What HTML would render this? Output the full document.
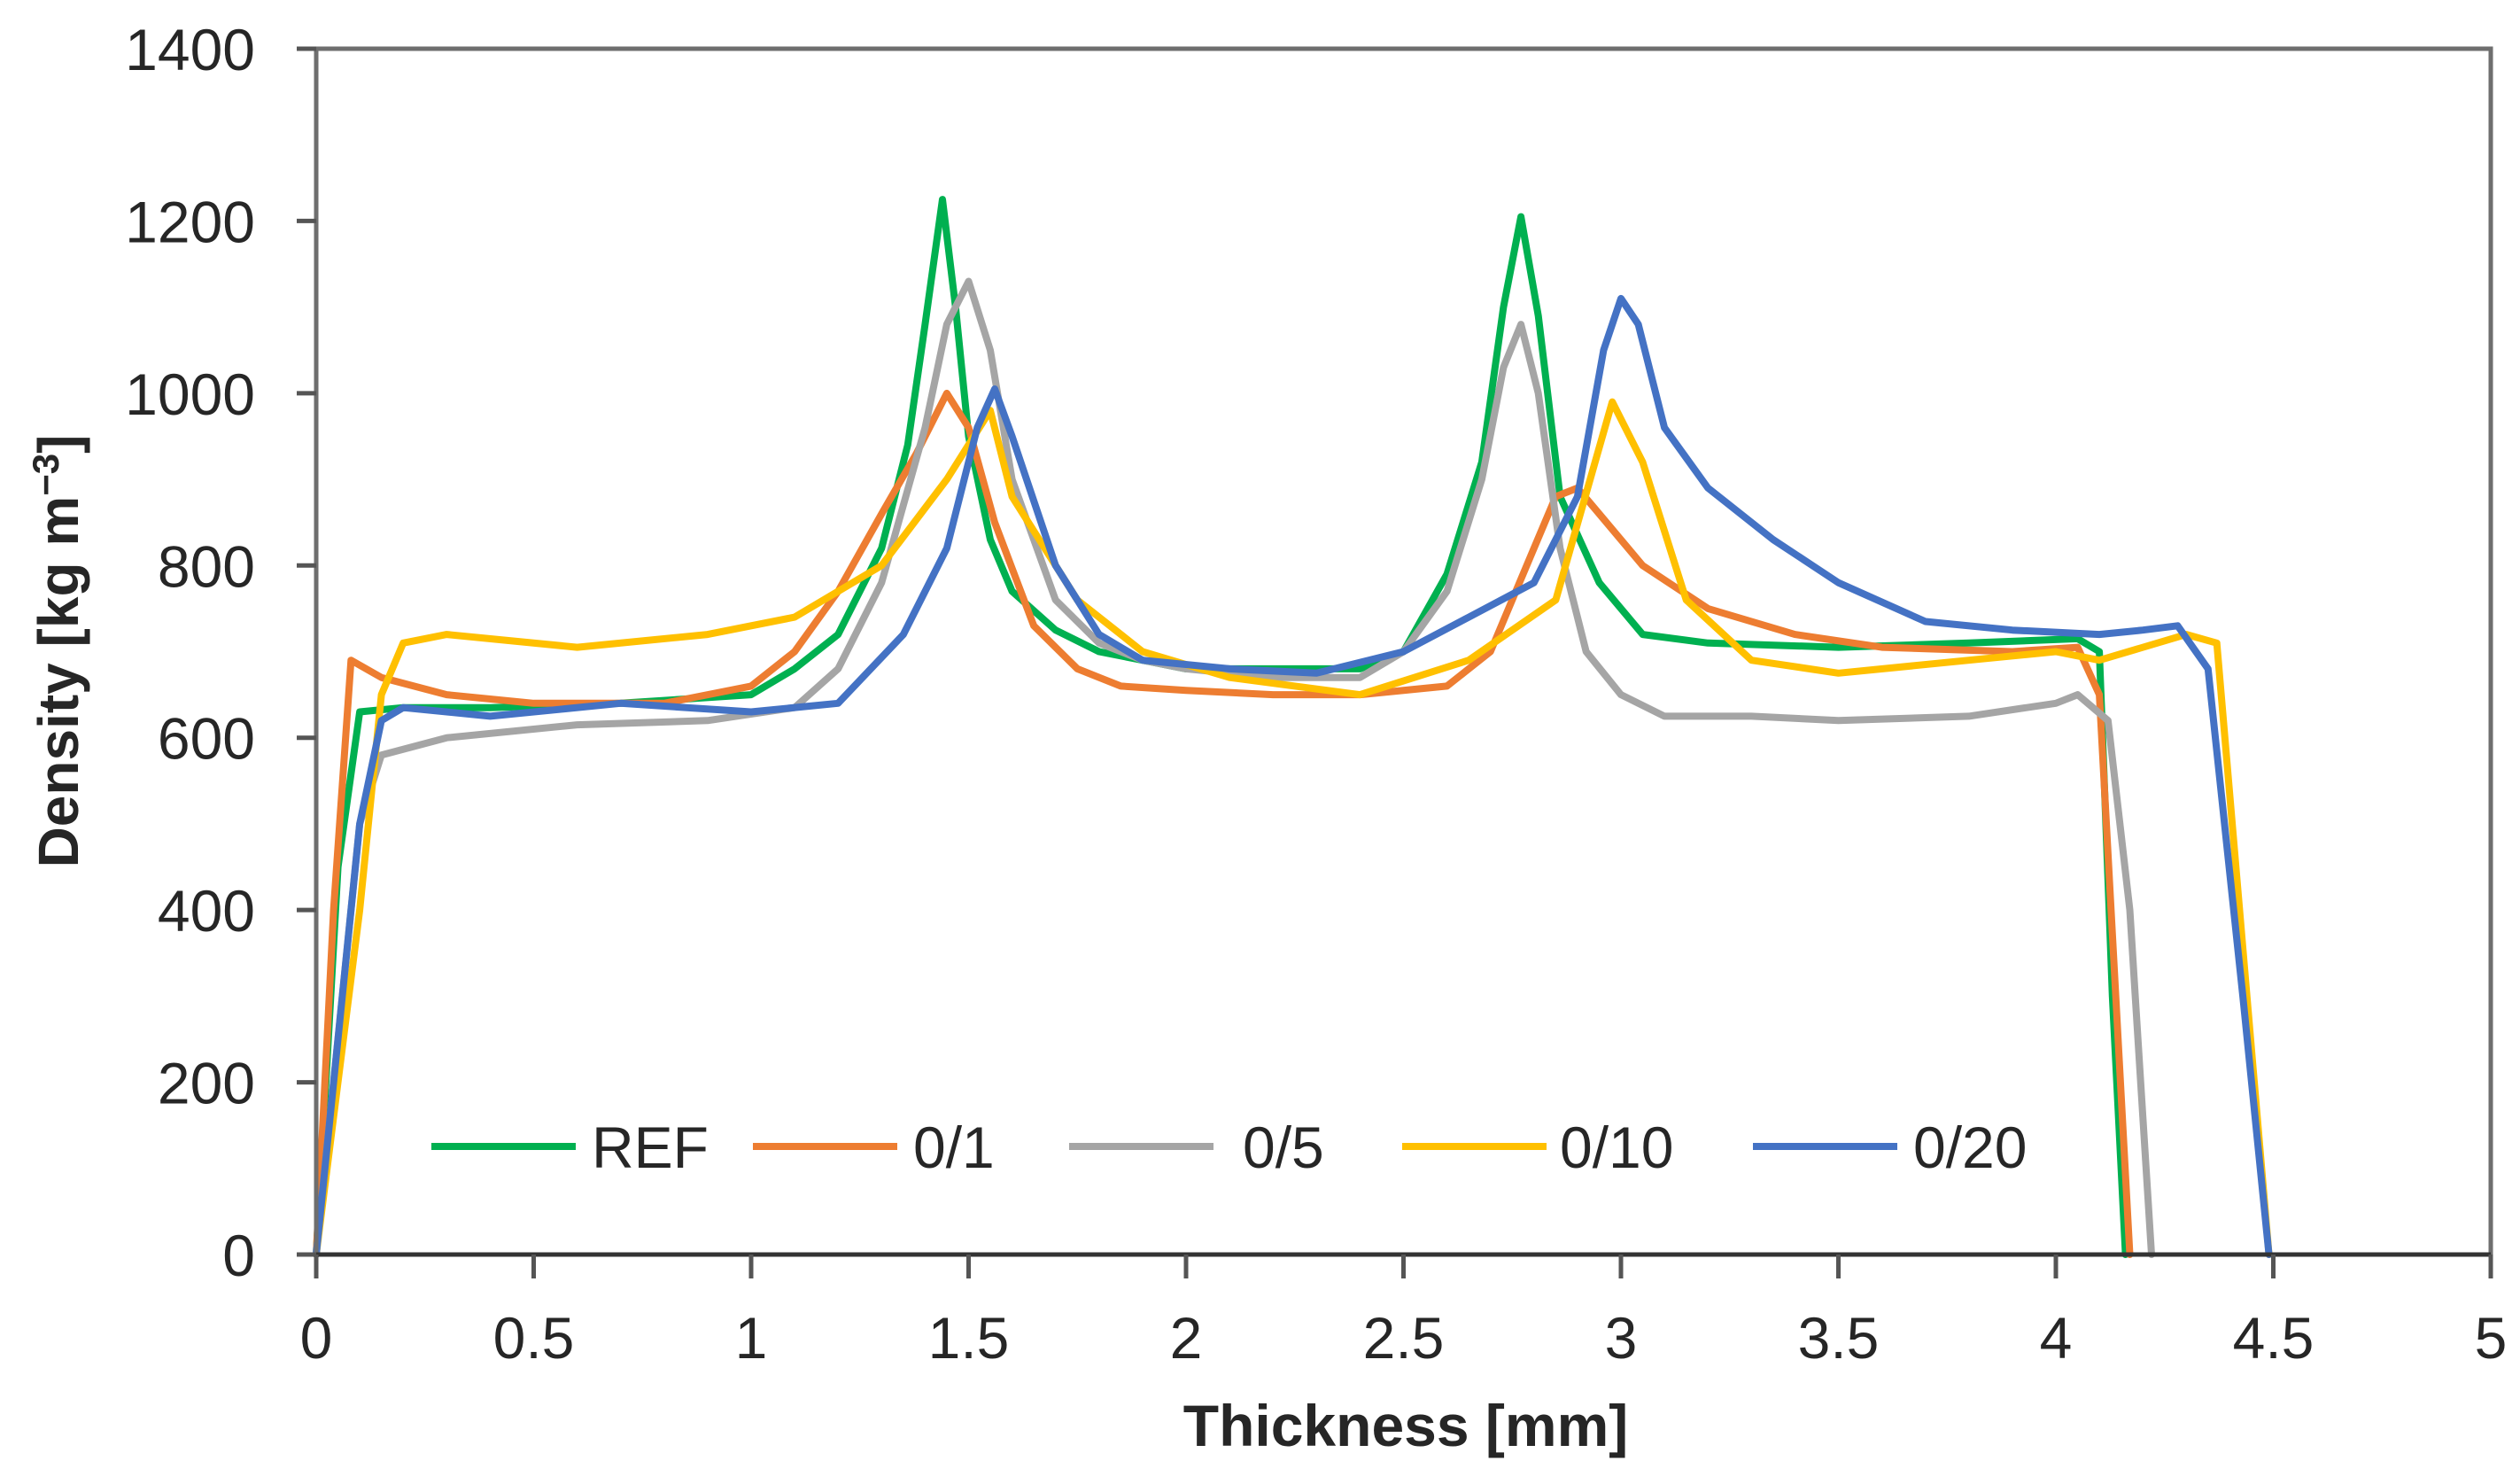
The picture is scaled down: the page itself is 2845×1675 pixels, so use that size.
<!DOCTYPE html>
<html><head><meta charset="utf-8"><style>
html,body{margin:0;padding:0;background:#fff;}
svg{display:block;}
text{font-family:"Liberation Sans",sans-serif;fill:#262626;}
</style></head><body>
<svg id="chart" width="2845" height="1675" xmlns="http://www.w3.org/2000/svg">
<g id="grid"></g>
<g id="series"></g>
<g id="axes"></g>
<g id="legend"></g>
</svg>
<script>
const xTicks=[0,0.5,1,1.5,2,2.5,3,3.5,4,4.5,5];
const xTickLabels=["0","0.5","1","1.5","2","2.5","3","3.5","4","4.5","5"];
const yTicks=[0,200,400,600,800,1000,1200,1400];
const yTickLabels=["0","200","400","600","800","1000","1200","1400"];
const seriesNames=["REF","0/1","0/5","0/10","0/20"];
const seriesColors=["#00b050","#ed7d31","#a5a5a5","#ffc000","#4472c4"];
const refX=[0,0.05,0.1,0.2,0.4,0.7,1.0,1.1,1.2,1.3,1.36,1.4,1.44,1.47,1.5,1.55,1.6,1.7,1.8,1.9,2.0,2.2,2.4,2.5,2.6,2.68,2.73,2.77,2.81,2.86,2.95,3.05,3.2,3.5,3.8,4.05,4.1,4.13,4.16];
const refY=[0,450,630,635,635,640,650,680,720,820,940,1080,1225,1100,950,830,770,725,700,690,680,680,680,700,790,920,1100,1205,1090,880,780,720,710,705,710,715,700,300,0];
const s01X=[0,0.04,0.08,0.15,0.3,0.5,0.8,1.0,1.1,1.2,1.3,1.38,1.45,1.5,1.56,1.65,1.75,1.85,2.0,2.2,2.4,2.6,2.7,2.8,2.85,2.9,2.95,3.05,3.2,3.4,3.6,3.9,4.05,4.1,4.17];
const s01Y=[0,400,690,670,650,640,640,660,700,770,860,930,1000,960,850,730,680,660,655,650,650,660,700,820,880,890,860,800,750,720,705,700,705,650,0];
const s05X=[0,0.1,0.15,0.3,0.6,0.9,1.1,1.2,1.3,1.4,1.45,1.5,1.55,1.6,1.7,1.8,1.9,2.0,2.2,2.4,2.5,2.6,2.68,2.73,2.77,2.81,2.86,2.92,3.0,3.1,3.3,3.5,3.8,4.0,4.05,4.12,4.17,4.22];
const s05Y=[0,500,580,600,615,620,635,680,780,960,1080,1130,1050,900,760,710,690,680,670,670,700,770,900,1030,1080,1000,820,700,650,625,625,620,625,640,650,620,400,0];
const s10X=[0,0.1,0.15,0.2,0.3,0.6,0.9,1.1,1.3,1.45,1.55,1.6,1.75,1.9,2.1,2.4,2.65,2.85,2.98,3.05,3.15,3.3,3.5,3.8,4.0,4.1,4.3,4.37,4.49];
const s10Y=[0,400,650,710,720,705,720,740,800,900,980,880,760,700,670,650,690,760,990,920,760,690,675,690,700,690,720,710,0];
const s20X=[0,0.1,0.15,0.2,0.4,0.7,1.0,1.2,1.35,1.45,1.52,1.56,1.6,1.7,1.8,1.9,2.1,2.3,2.5,2.65,2.8,2.9,2.96,3.0,3.04,3.1,3.2,3.35,3.5,3.7,3.9,4.1,4.2,4.28,4.35,4.43,4.49];
const s20Y=[0,500,620,635,625,640,630,640,720,820,960,1005,950,800,720,690,680,675,700,740,780,880,1050,1110,1080,960,890,830,780,735,725,720,725,730,680,300,0];
const allX=[refX,s01X,s05X,s10X,s20X];
const allY=[refY,s01Y,s05Y,s10Y,s20Y];

const L=357,R=2812,T=55,B=1416;
const sx=v=>L+(v-0)/5*(R-L);
const sy=v=>B-(v-0)/1400*(B-T);
const NS="http://www.w3.org/2000/svg";
function mk(tag,attrs,parent){const e=document.createElementNS(NS,tag);for(const k in attrs)e.setAttribute(k,attrs[k]);parent.appendChild(e);return e;}
const axes=document.getElementById('axes'),ser=document.getElementById('series'),leg=document.getElementById('legend');

allX.forEach((xs,i)=>{
  const pts=xs.map((x,j)=>sx(x).toFixed(1)+","+sy(allY[i][j]).toFixed(1)).join(" ");
  const p=mk('polyline',{points:pts,fill:'none',stroke:seriesColors[i],'stroke-width':8,'stroke-linejoin':'round','stroke-linecap':'round'},ser);
  
  
});

const frame=mk('rect',{x:L,y:T,width:R-L,height:B-T,fill:'none',stroke:'#6e6e6e','stroke-width':5},axes);


const xa=mk('line',{x1:L-10,y1:B,x2:R,y2:B,stroke:'#333','stroke-width':5},axes);



xTicks.forEach((t,i)=>{
  const tk=mk('line',{x1:sx(t),y1:B,x2:sx(t),y2:B+27,stroke:'#555','stroke-width':5},axes);
  
  
  const tx=mk('text',{x:sx(t),y:1533,'font-size':66,'text-anchor':'middle'},axes);
  tx.textContent=xTickLabels[i];
  
  
});
yTicks.forEach((t,i)=>{
  const tk=mk('line',{x1:L-22,y1:sy(t),x2:L,y2:sy(t),stroke:'#555','stroke-width':5},axes);
  
  
  const tx=mk('text',{x:288,y:sy(t)+24,'font-size':66,'text-anchor':'end'},axes);
  tx.textContent=yTickLabels[i];
  
  
});
const xt=mk('text',{x:1587,y:1632,'font-size':66,'font-weight':'bold','text-anchor':'middle'},axes);
xt.textContent='Thickness [mm]';


const yt=mk('text',{x:0,y:0,'font-size':64,'font-weight':'bold','text-anchor':'middle',transform:'translate(88,735) rotate(-90)'},axes);
yt.innerHTML='Density [kg m<tspan dy="-22" font-size="42">−3</tspan><tspan dy="22">]</tspan>';



const legLineX=[487,850,1207,1583,1979];
const legTextX=[668,1031,1403,1761,2160];
legLineX.forEach((lx,i)=>{
  const g=mk('g',{},leg);
  
  
  mk('line',{x1:lx,y1:1294,x2:lx+163,y2:1294,stroke:seriesColors[i],'stroke-width':8},g);
  const t=mk('text',{x:legTextX[i],y:1318,'font-size':66},g);
  t.textContent=seriesNames[i];
});
</script>
</body></html>
